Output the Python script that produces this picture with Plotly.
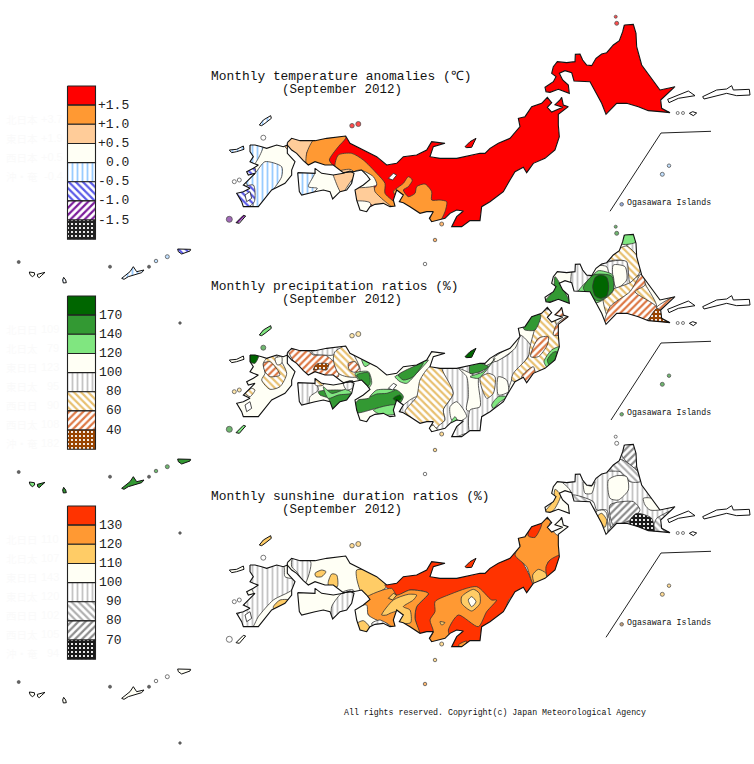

import plotly.graph_objects as go

WEST = (200, 10)
EAST = (470, 10)
PANEL_DY = [0, 210, 420]


def crop(origin, pts):
    return [(origin[0] + a / 3, origin[1] + b / 3) for a, b in pts]


# land outlines, all in top panel pixel positions
HOKKAIDO = crop(EAST, [(463, 45), (490, 43), (498, 70), (500, 110), (515, 165), (545, 205), (570, 240), (615, 230), (590, 255), (572, 270), (575, 295), (600, 308), (570, 305), (535, 302), (505, 290), (470, 280), (440, 280), (425, 295), (408, 313), (395, 280), (375, 245), (360, 215), (312, 213), (305, 188), (285, 182), (268, 190), (278, 210), (295, 225), (298, 250), (285, 245), (265, 238), (240, 247), (228, 245), (225, 232), (250, 215), (258, 200), (245, 190), (250, 170), (262, 155), (290, 158), (315, 155), (316, 133), (330, 132), (338, 150), (350, 165), (365, 167), (378, 145), (395, 132), (410, 128), (430, 105), (448, 92), (458, 65)])
HONSHU = crop(WEST, [(262, 398), (275, 385), (300, 392), (345, 392), (380, 385), (437, 378), (450, 400), (490, 420), (530, 440), (560, 465), (590, 460), (610, 440), (650, 435), (680, 420), (695, 395), (735, 400), (700, 410), (690, 440), (720, 445), (770, 445), (820, 435), (840, 430)]) + crop(EAST, [(45, 430), (60, 415), (85, 400), (120, 385), (150, 350), (145, 325), (165, 320), (185, 290), (215, 280), (232, 262), (245, 278), (232, 292), (245, 306), (278, 292), (255, 284), (270, 270), (275, 262), (280, 285), (295, 290), (265, 313), (265, 345), (268, 380), (255, 420), (225, 445), (190, 460), (170, 488), (160, 472), (135, 485), (120, 510), (100, 545), (60, 575), (35, 590), (30, 632)]) + crop(WEST, [(810, 632), (785, 650), (755, 650), (770, 620), (790, 603), (770, 600), (750, 610), (735, 625), (715, 630), (695, 635), (688, 625), (700, 605), (680, 605), (660, 610), (630, 590), (610, 578), (598, 575), (610, 555), (590, 540), (580, 570), (585, 588), (570, 590), (550, 580), (525, 583), (510, 590), (500, 605), (480, 600), (470, 570), (465, 540), (490, 525), (510, 508), (500, 495), (485, 480), (460, 485), (430, 488), (400, 465), (375, 465), (345, 455), (325, 465), (310, 452), (290, 430), (275, 420), (262, 405)])
SHIKOKU = crop(WEST, [(293, 488), (345, 490), (345, 475), (365, 490), (400, 495), (430, 490), (450, 483), (462, 490), (455, 520), (440, 540), (420, 545), (398, 567), (390, 545), (370, 540), (345, 545), (320, 552), (305, 555), (298, 545)])
KYUSHU = crop(WEST, [(150, 405), (165, 405), (185, 410), (200, 415), (230, 405), (250, 410), (262, 405), (262, 430), (285, 455), (275, 480), (275, 495), (255, 520), (215, 540), (195, 565), (175, 590), (150, 590), (130, 590), (125, 575), (110, 550), (130, 545), (150, 535), (130, 525), (145, 510), (165, 490), (145, 495), (140, 485), (160, 475), (175, 465), (160, 460), (150, 455), (160, 440), (150, 425)])
LAND = [HONSHU, HOKKAIDO, SHIKOKU, KYUSHU]
PANEL_FRAME = [(218, 128), (330, 122), (440, 118), (520, 100), (540, 60), (600, 28), (640, 12), (685, 60), (690, 122), (640, 128), (560, 160), (510, 190), (492, 234), (440, 234), (330, 214), (218, 218)]
LAKE = crop(WEST, [(565, 505), (580, 490), (590, 495), (578, 510)])
BAY = crop(WEST, [(135, 555), (150, 545), (155, 565), (140, 575)])

# islands: outline plus one legend level per panel
TSUSHIMA = crop(WEST, [(178, 345), (190, 330), (212, 317), (214, 325), (195, 340), (185, 347)])
GOTO = crop(WEST, [(88, 420), (110, 418), (130, 408), (132, 418), (110, 425), (95, 428)])
SADO = crop(WEST, [(795, 410), (810, 395), (828, 385), (822, 398), (815, 412), (800, 413)])
TANEGASHIMA = crop(WEST, [(108, 638), (130, 616), (137, 618), (118, 640)])
OKINAWA = crop((0, 50), [(365, 685), (390, 665), (400, 650), (410, 665), (432, 660), (425, 668), (385, 680), (372, 688)])
AMAMI = crop((0, 50), [(533, 597), (572, 598), (570, 603), (545, 612), (535, 605)])
ISHIGAKI = crop((0, 50), [(88, 666), (103, 668), (104, 675), (97, 680), (90, 674)])
IRIOMOTE = crop((0, 50), [(112, 673), (135, 667), (125, 676), (118, 683), (113, 680)])
MIYAKO = crop((0, 50), [(191, 682), (197, 690), (199, 698), (190, 699), (188, 690)])
ISLANDS = [TSUSHIMA, GOTO, SADO, TANEGASHIMA, OKINAWA, AMAMI, ISHIGAKI, IRIOMOTE, MIYAKO]
ISLAND_LEVELS = [[4, 4, 0, 6, 4, 5, 3, 3, 4], [2, 3, 0, 2, 1, 1, 2, 1, 1], [2, 3, 0, 3, 3, 3, 3, 3, 3]]

KURIL_A = crop(EAST, [(593, 268), (625, 255), (655, 243), (675, 257), (650, 262), (625, 265), (597, 278)])
KURIL_B = crop(EAST, [(698, 260), (740, 240), (770, 237), (785, 227), (790, 240), (838, 238), (840, 255), (800, 257), (770, 250), (720, 262), (702, 267)])
HABOMAI = crop(EAST, [(658, 310), (668, 305), (680, 309), (670, 317)])

ISLET_X = [441.7, 435, 425, 352, 358.3, 263.3, 234.3, 239.3, 229.3, 616.7, 615.7, 677.7, 683, 669, 662.3, 621.7, 18.7, 110, 149, 180, 156, 167.3]
ISLET_Y = [224, 240, 264, 125.7, 124, 137.7, 181.7, 180, 219.3, 23.3, 16.7, 113, 113, 165.7, 174.3, 204.3, 262, 266.7, 266.7, 323, 261, 256.7]
ISLET_SIZES = [4, 3.5, 3.5, 4.5, 5, 5, 4, 4, 6, 4, 3, 3, 3, 3.5, 4, 3.5, 3, 3, 3, 2.5, 3.5, 4]
TEMP_ISLETS = ["#ff9933", "#ff9933", "white", "#ff0000", "#ff0000", "white", "white", "white", "#7a2a9a", "#ff0000", "#ff0000", "white", "white", "#a8d4ff", "#a8d4ff", "#6a8ad0", "#222222", "#222222", "#222222", "#222222", "#a8d4ff", "#a8d4ff"]
RAIN_ISLETS = ["#ffcc66", "#ffcc66", "white", "#ffdd88", "#ffdd88", "#339933", "#ffdd88", "#ffdd88", "#339933", "#339933", "#339933", "white", "white", "#339933", "#339933", "#339933", "#222222", "#222222", "#222222", "#222222", "#339933", "#339933"]
SUN_ISLETS = ["#ffcc66", "#ffcc66", "#ff9933", "#ffcc66", "#ffcc66", "white", "white", "white", "white", "white", "white", "white", "white", "#ffcc66", "#ffcc66", "#aa7744", "#222222", "#222222", "#222222", "#222222", "white", "white"]
ISLETS = [TEMP_ISLETS, RAIN_ISLETS, SUN_ISLETS]
BOX_X = [[711, 661, 610], [711, 661, 611], [711, 661, 606]]
BOX_Y = [[131.3, 133, 211.3], [131.3, 133, 210], [131.3, 133, 217.3]]

# legend
TEMP_LABELS = ["+1.5", "+1.0", "+0.5", "0.0", "-0.5", "-1.0", "-1.5"]
RAIN_LABELS = ["170", "140", "120", "100", "80", "60", "40"]
SUN_LABELS = ["130", "120", "110", "100", "90", "80", "70"]
LABEL_RIGHT = [131, 124, 124]
TITLES = ["Monthly temperature anomalies (℃)", "Monthly precipitation ratios (%)", "Monthly sunshine duration ratios (%)"]
SUBTITLE = "(September 2012)"
ISLAND_TEXT = "Ogasawara Islands"
COPYRIGHT = "All rights reserved. Copyright(c) Japan Meteorological Agency"

# very pale regional figures beside each legend
TEMP_REGIONS = ["北日本", "東日本", "西日本", "沖・奄"]
TEMP_REGION_VALUES = ["+3.7", "+1.9", "+0.5", "-0.4"]
RAIN_REGIONS = ["北日日", "北日太", "東日日", "東日太", "西日日", "西日太", "沖・奄"]
RAIN_REGION_VALUES = ["109", "79", "123", "95", "90", "108", "182"]
SUN_REGIONS = ["北日日", "北日太", "東日日", "東日太", "西日日", "西日太", "沖・奄"]
SUN_REGION_VALUES = ["110", "107", "143", "120", "102", "105", "94"]
REGIONS = [TEMP_REGIONS, RAIN_REGIONS, SUN_REGIONS]
REGION_VALUES = [TEMP_REGION_VALUES, RAIN_REGION_VALUES, SUN_REGION_VALUES]
REGION_RIGHT = [65, 61, 61]

CREAM = "#fffff5"
TEMP_STYLES = ["#ff0000", "#ff9933", "#ffcc99", CREAM, ("|", "#99ccff"), ("\\", "#5a5ae8"), ("/", "#7a1a9a"), ("+", "#222222")]
RAIN_STYLES = ["#006600", "#339933", "#80e680", CREAM, ("|", "#c4c4c4"), ("\\", "#e8c070"), ("/", "#dd7744"), ("+", "#994400")]
SUN_STYLES = ["#ff3300", "#ff9933", "#ffcc66", CREAM, ("|", "#c4c4c4"), ("\\", "#b0b0b0"), ("/", "#8c8c8c"), ("+", "#1a1a1a")]
STYLES = [TEMP_STYLES, RAIN_STYLES, SUN_STYLES]
BASE_LEVELS = [[0, 0, 3, 3], [3, 3, 3, 3], [3, 4, 3, 3]]

# zones are (level, outline); they overrun the coast, the sea mask trims them
TEMP_ZONES = [
    (2, crop(WEST, [(262, 380), (345, 385), (320, 430), (320, 470), (285, 435), (255, 410)])),
    (1, crop(WEST, [(345, 385), (437, 372), (437, 385), (415, 410), (388, 450), (400, 470), (345, 470), (320, 470), (320, 430)])),
    (1, crop(WEST, [(415, 435), (455, 430), (490, 450), (530, 490), (555, 520), (555, 550), (590, 585), (575, 595), (550, 575), (520, 540), (530, 525), (520, 505), (480, 495), (430, 495), (405, 470)])),
    (2, crop(WEST, [(460, 525), (520, 525), (525, 545), (550, 570), (578, 595), (525, 590), (510, 582), (470, 578)])),
    (3, crop(WEST, [(465, 575), (510, 578), (510, 612), (475, 610)])),
    (3, crop(WEST, [(480, 480), (520, 500), (530, 525), (460, 530), (455, 490)])),
    (1, crop(WEST, [(580, 545), (610, 520), (625, 500), (637, 510), (625, 530), (610, 540), (625, 560), (645, 550), (650, 530), (675, 522), (695, 545), (695, 570), (720, 570), (740, 575), (735, 605), (715, 640), (685, 640), (695, 610), (660, 615), (630, 595), (605, 580), (590, 560)])),
    (4, crop(WEST, [(195, 455), (245, 470), (245, 500), (215, 545), (195, 570), (175, 595), (160, 595), (160, 560), (145, 530), (135, 510), (165, 490)])),
    (4, crop(WEST, [(165, 400), (190, 405), (175, 445), (160, 465), (145, 440), (145, 410)])),
    (5, crop(WEST, [(105, 545), (160, 525), (163, 575), (135, 595), (115, 575)])),
    (5, crop(WEST, [(135, 480), (165, 474), (165, 492), (140, 498)])),
    (4, crop(WEST, [(288, 483), (345, 485), (325, 530), (352, 535), (322, 558), (295, 558)])),
    (2, crop(WEST, [(400, 490), (450, 478), (465, 490), (445, 525), (425, 550), (405, 510)])),
]
RAIN_ZONES = [
    (6, crop(WEST, [(265, 390), (325, 393), (340, 405), (375, 405), (410, 435), (415, 470), (375, 470), (345, 470), (320, 470), (285, 430)])),
    (4, crop(WEST, [(330, 385), (405, 373), (440, 373), (400, 405), (370, 405), (340, 402)])),
    (5, crop(WEST, [(405, 395), (440, 378), (480, 445), (475, 470), (440, 470), (415, 460), (400, 420)])),
    (6, crop(WEST, [(445, 430), (465, 425), (478, 445), (465, 457), (448, 450)])),
    (7, crop(WEST, [(340, 450), (350, 432), (385, 432), (380, 450), (360, 447)])),
    (2, crop(WEST, [(485, 418), (512, 428), (495, 440)])),
    (2, crop(WEST, [(465, 460), (505, 455), (515, 490), (500, 510), (490, 500)])),
    (1, crop(WEST, [(470, 465), (505, 458), (510, 490), (495, 505), (480, 480)])),
    (4, crop(WEST, [(290, 483), (345, 485), (355, 510), (330, 530), (325, 558), (295, 558)])),
    (5, crop(WEST, [(340, 487), (370, 470), (370, 495), (350, 497)])),
    (1, crop(WEST, [(355, 515), (415, 510), (450, 515), (445, 545), (420, 550), (398, 572), (385, 535), (360, 525)])),
    (2, crop(WEST, [(370, 500), (395, 520), (440, 508), (455, 520), (415, 525), (385, 535)])),
    (4, crop(WEST, [(430, 490), (458, 482), (465, 500), (440, 510)])),
    (1, crop(WEST, [(465, 555), (475, 540), (505, 535), (525, 515), (590, 510), (610, 530), (590, 560), (530, 565), (470, 578)])),
    (2, crop(WEST, [(510, 530), (530, 510), (585, 510), (560, 520), (530, 522)])),
    (2, crop(WEST, [(520, 570), (585, 555), (590, 580), (545, 585)])),
    (0, crop(WEST, [(580, 535), (600, 525), (605, 535), (590, 545)])),
    (2, crop(WEST, [(585, 470), (600, 462), (625, 450), (670, 425), (685, 420), (650, 460), (620, 490), (600, 485)])),
    (1, crop(WEST, [(595, 465), (640, 440), (670, 428), (640, 470), (610, 480)])),
    (4, crop(WEST, [(600, 570), (650, 530), (690, 560), (700, 615), (660, 615)])),
    (5, crop(WEST, [(615, 575), (650, 530), (660, 480), (690, 440), (725, 445), (760, 520), (730, 570), (735, 600), (710, 625), (690, 605), (660, 615), (640, 598)])),
    (4, crop(WEST, [(725, 440), (775, 440), (820, 430), (850, 425), (850, 640), (800, 640), (750, 655), (710, 625), (735, 600), (730, 570), (760, 520)])),
    (3, crop(WEST, [(775, 445), (800, 470), (805, 530), (800, 570), (840, 575), (840, 480)])),
    (3, crop(WEST, [(750, 560), (770, 545), (800, 590), (775, 605), (755, 600)])),
    (2, crop(WEST, [(752, 610), (765, 590), (775, 610), (760, 625)])),
    (5, crop(WEST, [(190, 430), (200, 415), (230, 408), (260, 460), (240, 500), (210, 508), (185, 480), (195, 460)])),
    (6, crop(WEST, [(190, 430), (210, 425), (240, 465), (210, 470), (195, 455)])),
    (3, crop(WEST, [(225, 415), (245, 410), (245, 430), (232, 435)])),
    (0, crop(WEST, [(145, 400), (178, 398), (165, 430), (150, 425)])),
    (5, crop(WEST, [(135, 520), (155, 505), (165, 510), (150, 530)])),
    # east half
    (4, crop(EAST, [(30, 450), (120, 400), (150, 345), (185, 385), (125, 480), (100, 550), (35, 595), (30, 640), (0, 640), (0, 570), (30, 560), (25, 490)])),
    (3, crop(EAST, [(70, 415), (120, 380), (150, 345), (135, 385), (75, 425)])),
    (2, crop(EAST, [(0, 470), (40, 455), (75, 415), (50, 450), (25, 475)])),
    (1, crop(EAST, [(0, 435), (30, 430), (55, 440), (30, 455), (0, 460)])),
    (5, crop(EAST, [(30, 475), (55, 460), (75, 470), (70, 520), (50, 535)])),
    (3, crop(EAST, [(85, 470), (110, 480), (115, 515), (85, 525)])),
    (2, crop(EAST, [(65, 555), (85, 530), (110, 530), (85, 550), (70, 565)])),
    (5, crop(EAST, [(125, 480), (130, 460), (175, 410), (180, 380), (215, 275), (245, 270), (265, 345), (272, 380), (255, 425), (225, 450), (190, 465), (170, 492)])),
    (1, crop(EAST, [(160, 325), (180, 280), (212, 285), (195, 330), (165, 330)])),
    (6, crop(EAST, [(182, 410), (205, 355), (235, 350), (232, 375), (205, 410)])),
    (6, crop(EAST, [(155, 470), (190, 440), (195, 465), (170, 492)])),
    (6, crop(EAST, [(250, 345), (262, 310), (300, 285), (270, 320), (270, 345)])),
    (6, crop(EAST, [(252, 275), (280, 262), (285, 285), (255, 288)])),
    (2, crop(EAST, [(222, 425), (245, 390), (270, 380), (258, 425), (235, 445)])),
    (1, crop(EAST, [(232, 420), (248, 398), (260, 395), (254, 420), (238, 435)])),
    (4, crop(EAST, [(380, 135), (470, 122), (485, 190), (430, 218), (410, 140)])),
    (4, crop(EAST, [(470, 75), (503, 65), (503, 110)])),
    (5, crop(EAST, [(415, 122), (450, 85), (470, 78), (503, 110), (510, 155), (480, 188), (470, 125), (440, 120)])),
    (3, crop(EAST, [(430, 135), (465, 140), (470, 180), (440, 205), (430, 180)])),
    (2, crop(EAST, [(455, 72), (460, 40), (495, 38), (500, 65), (480, 72)])),
    (4, crop(EAST, [(305, 155), (320, 125), (335, 128), (350, 165), (368, 170), (330, 210), (305, 218)])),
    (5, crop(EAST, [(400, 225), (480, 188), (510, 165), (530, 200), (560, 260), (530, 295), (430, 320)])),
    (6, crop(EAST, [(400, 320), (420, 260), (480, 215), (515, 160), (525, 195), (495, 215), (560, 262), (530, 300), (510, 300), (470, 285), (440, 285)])),
    (7, crop(EAST, [(535, 305), (560, 265), (578, 265), (578, 295), (605, 312), (570, 310)])),
    (6, crop(EAST, [(560, 262), (620, 226), (592, 258), (578, 272)])),
    (2, crop(EAST, [(325, 215), (365, 170), (385, 152), (428, 165), (428, 215), (380, 248), (350, 225)])),
    (1, crop(EAST, [(340, 205), (370, 165), (425, 168), (430, 210), (385, 243)])),
    (0, crop(EAST, [(392, 165), (410, 172), (416, 200), (410, 228), (392, 235), (376, 228), (368, 200), (376, 172)])),
    (1, crop(EAST, [(220, 250), (250, 212), (255, 170), (278, 205), (302, 255), (265, 240)])),
]
SUN_ZONES = [
    (4, crop(WEST, [(145, 400), (250, 405), (255, 440), (285, 450), (275, 480), (220, 510), (175, 560), (155, 595), (125, 595), (105, 560), (130, 540), (135, 505), (160, 490), (145, 460)])),
    (2, crop(WEST, [(220, 530), (240, 510), (272, 510), (240, 530), (222, 540)])),
    (4, crop(WEST, [(278, 385), (332, 395), (315, 460), (290, 425), (275, 410)])),
    (2, crop(WEST, [(345, 430), (365, 420), (378, 425), (365, 440), (348, 440)])),
    (2, crop(WEST, [(385, 455), (395, 432), (410, 435), (412, 470), (385, 465)])),
    (4, crop(WEST, [(395, 530), (430, 485), (460, 480), (465, 510), (440, 545), (398, 572)])),
    (2, crop(WEST, [(470, 420), (530, 425), (558, 445), (562, 468), (495, 505), (480, 480), (470, 445)])),
    (0, crop(WEST, [(555, 465), (680, 390), (740, 390), (840, 425), (940, 365), (1000, 480), (930, 505), (900, 585), (845, 595), (845, 645), (750, 655), (690, 645), (660, 615), (645, 560), (650, 530), (685, 490), (630, 480), (585, 500), (575, 485)])),
    (1, crop(WEST, [(495, 505), (575, 475), (590, 495), (630, 480), (685, 490), (650, 530), (645, 565), (660, 615), (610, 585), (585, 595), (560, 580), (510, 562), (495, 530)])),
    (2, crop(WEST, [(545, 555), (580, 510), (625, 493), (650, 495), (640, 510), (610, 530), (630, 540), (632, 578), (600, 578), (590, 545), (570, 550), (560, 555)])),
    (3, crop(WEST, [(465, 535), (500, 525), (505, 555), (578, 595), (520, 600), (500, 610), (475, 605)])),
    (2, crop(WEST, [(472, 580), (490, 572), (508, 590), (502, 610), (478, 605)])),
    (4, crop(WEST, [(515, 580), (540, 570), (565, 585), (520, 592)])),
    (1, crop(WEST, [(705, 515), (745, 495), (830, 470), (875, 510), (890, 510), (860, 545), (835, 590), (775, 555), (745, 600), (750, 630), (700, 640), (685, 635), (700, 605), (690, 570), (705, 545)])),
    (2, crop(WEST, [(785, 500), (820, 478), (838, 490), (840, 520), (815, 543), (785, 520)])),
    (3, crop(WEST, [(805, 510), (815, 500), (828, 515), (815, 530)])),
    (2, crop(WEST, [(720, 575), (735, 578), (725, 585)])),
    (1, crop(WEST, [(775, 645), (800, 633), (790, 655)])),
    # east half
    (1, crop(EAST, [(135, 375), (150, 345), (140, 320), (165, 315), (215, 275), (232, 255), (272, 310), (275, 385), (235, 395), (230, 435), (190, 460), (170, 410)])),
    (0, crop(EAST, [(175, 318), (180, 285), (215, 280), (195, 322)])),
    (0, crop(EAST, [(230, 435), (228, 410), (240, 390), (272, 375), (260, 425), (240, 440)])),
    (2, crop(EAST, [(188, 435), (205, 418), (228, 430), (228, 448), (195, 462)])),
    (3, crop(EAST, [(238, 282), (280, 255), (305, 290), (268, 318), (250, 305)])),
    (3, crop(EAST, [(218, 150), (262, 148), (300, 180), (310, 218), (305, 262), (218, 262)])),
    (2, crop(EAST, [(222, 250), (250, 212), (255, 178), (272, 195), (255, 235), (240, 250)])),
    (6, crop(EAST, [(455, 75), (460, 40), (495, 38), (505, 120), (470, 95)])),
    (5, crop(EAST, [(415, 122), (450, 88), (503, 125), (510, 155), (480, 155), (450, 125)])),
    (3, crop(EAST, [(415, 150), (440, 137), (470, 140), (475, 180), (445, 210), (420, 205)])),
    (3, crop(EAST, [(340, 155), (350, 165), (365, 168), (375, 155), (365, 190), (345, 190)])),
    (3, crop(EAST, [(520, 205), (545, 205), (572, 238), (540, 240), (525, 225)])),
    (5, crop(EAST, [(305, 195), (370, 215), (380, 240), (410, 240), (420, 320), (395, 320), (365, 250), (355, 220), (305, 220)])),
    (3, crop(EAST, [(378, 245), (400, 240), (410, 250), (412, 320), (395, 285)])),
    (2, crop(EAST, [(383, 258), (395, 250), (410, 270), (405, 292), (390, 275)])),
    (5, crop(EAST, [(415, 305), (430, 285), (480, 275), (545, 295), (560, 265), (620, 235), (580, 270), (580, 300), (605, 315), (530, 315), (470, 295)])),
    (6, crop(EAST, [(420, 225), (490, 215), (510, 240), (480, 270), (430, 285)])),
    (7, crop(EAST, [(480, 270), (500, 250), (545, 265), (552, 310), (535, 310), (505, 295), (480, 282)])),
]
ZONES = [TEMP_ZONES, RAIN_ZONES, SUN_ZONES]
LABELS = [TEMP_LABELS, RAIN_LABELS, SUN_LABELS]
HATCH = {"+": (4, 0.8), "|": (5, 0.36), "\\": (5, 0.44), "/": (5, 0.44)}


def signed_area(pts):
    return sum(a[0] * b[1] - b[0] * a[1] for a, b in zip(pts, pts[1:] + pts[:1]))


def add_poly(fig, pts, dy, style=None, line="#222222", width=0.8, smooth=False):
    kw = {}
    if isinstance(style, tuple):
        size, solidity = HATCH[style[0]]
        kw = dict(fill="toself", fillpattern=dict(shape=style[0], fgcolor=style[1], bgcolor="white", fgopacity=1, size=size, solidity=solidity))
    elif style:
        kw = dict(fill="toself", fillcolor=style)
    closed = pts + pts[:1]
    line_style = dict(color=line, width=width)
    if smooth:
        line_style.update(shape="spline", smoothing=0.7)
    fig.add_trace(go.Scatter(
        x=[p[0] for p in closed],
        y=[p[1] + dy for p in closed],
        mode="lines",
        line=line_style,
        hoverinfo="skip",
        showlegend=False,
        **kw,
    ))


def add_sea_mask(fig, dy):
    # frame and land wound in opposite directions so the land stays open
    frame = PANEL_FRAME if signed_area(PANEL_FRAME) > 0 else PANEL_FRAME[::-1]
    xs, ys = [p[0] for p in frame] + [frame[0][0]], [p[1] + dy for p in frame] + [frame[0][1] + dy]
    for land in LAND:
        ring = land if signed_area(land) < 0 else land[::-1]
        xs += [None] + [p[0] for p in ring] + [ring[0][0]]
        ys += [None] + [p[1] + dy for p in ring] + [ring[0][1] + dy]
    fig.add_trace(go.Scatter(x=xs, y=ys, mode="lines", fill="toself", fillcolor="white", line=dict(width=0), hoverinfo="skip", showlegend=False))


def add_text(fig, x, y, text, size, anchor="left", color="#111111", family="Liberation Mono"):
    fig.add_annotation(x=x, y=y, text=text, showarrow=False, xanchor=anchor, yanchor="middle", font=dict(family=family, size=size, color=color))


def draw_panel(fig, i):
    dy = PANEL_DY[i]
    styles = STYLES[i]
    for land, level in zip(LAND, BASE_LEVELS[i]):
        add_poly(fig, land, dy, styles[level], line="rgba(0,0,0,0)", width=0)
    for level, pts in ZONES[i]:
        add_poly(fig, pts, dy, styles[level], line="#333333", width=0.8, smooth=True)
    add_sea_mask(fig, dy)
    add_poly(fig, LAKE, dy, styles[2] if i == 2 else "white", width=0.8)
    add_poly(fig, BAY, dy, "white", width=0.8)
    for land in LAND:
        add_poly(fig, land, dy, None, line="#111111", width=1.1)
    for pts, level in zip(ISLANDS, ISLAND_LEVELS[i]):
        add_poly(fig, pts, dy, styles[level], line="#111111", width=1)
    for pts in (KURIL_A, KURIL_B, HABOMAI):
        add_poly(fig, pts, dy, "white", line="#111111", width=1)
    fig.add_trace(go.Scatter(
        x=ISLET_X,
        y=[v + dy for v in ISLET_Y],
        mode="markers",
        marker=dict(size=ISLET_SIZES, color=ISLETS[i], line=dict(color="#111111", width=0.8)),
        hoverinfo="skip",
        showlegend=False,
    ))
    fig.add_trace(go.Scatter(x=BOX_X[i], y=[v + dy for v in BOX_Y[i]], mode="lines", line=dict(color="#222222", width=1), hoverinfo="skip", showlegend=False))
    add_text(fig, 208.5, 76 + dy, TITLES[i], 12.9)
    add_text(fig, 279.5, 90 + dy, SUBTITLE, 12.5)
    add_text(fig, 624.5, 202.5 + dy, ISLAND_TEXT, 8.25)


def draw_legend(fig, i):
    dy = PANEL_DY[i]
    top, step = 86 + dy, 19.15
    for n, style in enumerate(STYLES[i]):
        y0 = top + n * step
        add_poly(fig, [(67.5, y0), (95.5, y0), (95.5, y0 + step), (67.5, y0 + step)], 0, style, line="#222222", width=1.1)
    for n, label in enumerate(LABELS[i]):
        add_text(fig, LABEL_RIGHT[i], top + (n + 1) * step, label, 13, anchor="right", color="#222222")
    for n, (name, value) in enumerate(zip(REGIONS[i], REGION_VALUES[i])):
        y = 119 + dy + n * 19
        add_text(fig, 4, y, name, 10.5, color="#fafafa", family="Noto Sans CJK JP")
        add_text(fig, REGION_RIGHT[i], y, value, 11, anchor="right", color="#fafafa", family="Liberation Sans")


fig = go.Figure()
for panel in range(3):
    draw_panel(fig, panel)
    draw_legend(fig, panel)
add_text(fig, 341.5, 712, COPYRIGHT, 8.25)

fig.update_layout(
    width=754,
    height=764,
    margin=dict(l=0, r=0, t=0, b=0),
    plot_bgcolor="white",
    paper_bgcolor="white",
    xaxis=dict(range=[0, 754], visible=False, fixedrange=True),
    yaxis=dict(range=[764, 0], visible=False, fixedrange=True),
    showlegend=False,
)
fig.write_html("out.html", config=dict(displayModeBar=False), post_script="document.body.style.margin='0'")
